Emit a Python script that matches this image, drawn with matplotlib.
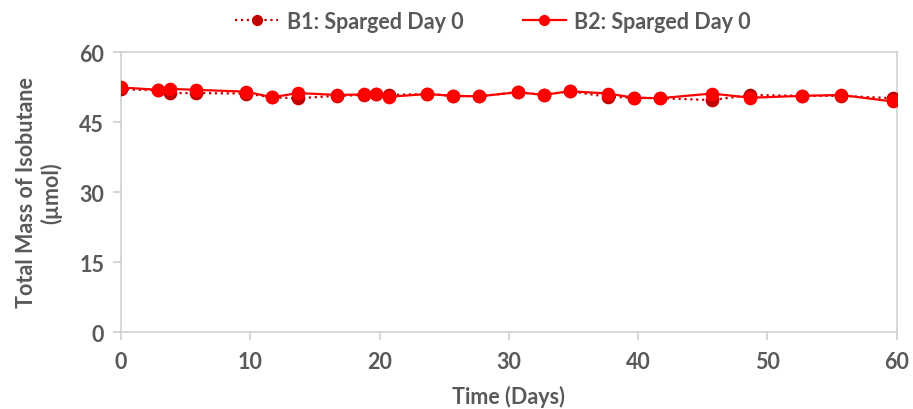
import matplotlib.pyplot as plt

plt.rcParams["font.family"] = ["Lato", "DejaVu Sans"]
plt.rcParams["font.weight"] = "bold"

GRAY = "#595959"
SPINE = "#D0D0D0"

days = [0, 2.9, 3.8, 5.8, 9.7, 11.7, 13.7, 16.7, 18.8, 19.7, 20.7, 23.7,
        25.7, 27.7, 30.7, 32.7, 34.7, 37.7, 39.7, 41.7, 45.7, 48.7, 52.7,
        55.7, 59.7]

b1 = [52.0, 51.8, 51.2, 51.2, 51.1, 50.3, 50.1, 50.6, 50.8, 50.9, 50.8, 51.0,
      50.6, 50.5, 51.4, 50.8, 51.6, 50.4, 50.2, 50.1, 49.7, 50.8, 50.6,
      50.6, 50.1]

b2 = [52.4, 51.9, 52.1, 51.9, 51.5, 50.3, 51.2, 50.8, 50.9, 50.9, 50.4, 51.0,
      50.6, 50.5, 51.4, 50.8, 51.6, 51.1, 50.2, 50.1, 51.1, 50.2, 50.6,
      50.8, 49.4]

x_ticks = [0, 10, 20, 30, 40, 50, 60]
y_ticks = [0, 15, 30, 45, 60]

fig = plt.figure(figsize=(9.13, 4.10), dpi=100)
ax = fig.add_axes([0.1325, 0.1878, 0.8495, 0.6829])

ax.plot(days, b1, color="#C00000", linestyle=":", linewidth=1.6,
        marker="o", markersize=8.8, label="B1: Sparged Day 0", zorder=3)
ax.plot(days, b2, color="#FF0000", linestyle="-", linewidth=1.6,
        marker="o", markersize=8.8, label="B2: Sparged Day 0", zorder=4)

ax.set_xlim(0, 60)
ax.set_ylim(0, 60)
ax.set_xticks(x_ticks)
ax.set_yticks(y_ticks)

for side in ["left", "right", "top", "bottom"]:
    ax.spines[side].set_color(SPINE)
    ax.spines[side].set_linewidth(1.2)
ax.tick_params(axis="both", colors=SPINE, width=1.2, length=6,
               labelcolor=GRAY, labelsize=15.5)
ax.tick_params(axis="x", pad=8)
ax.tick_params(axis="y", pad=6)
for lbl in ax.get_xticklabels() + ax.get_yticklabels():
    lbl.set_fontweight("bold")

ax.set_xlabel("Time (Days)", fontsize=15.5, fontweight="bold", color=GRAY,
              labelpad=9)
ax.set_ylabel("Total Mass of Isobutane\n(µmol)", fontsize=15.5,
              fontweight="bold", color=GRAY, labelpad=12,
              multialignment="center")

leg = fig.legend(loc="center", bbox_to_anchor=(0.54, 0.946), ncol=2,
                 frameon=False, fontsize=15.5, handlelength=2.0,
                 columnspacing=2.75, handletextpad=0.4, markerscale=0.8)
for t in leg.get_texts():
    t.set_color(GRAY)
    t.set_fontweight("bold")

fig.savefig("out.png", dpi=100)
